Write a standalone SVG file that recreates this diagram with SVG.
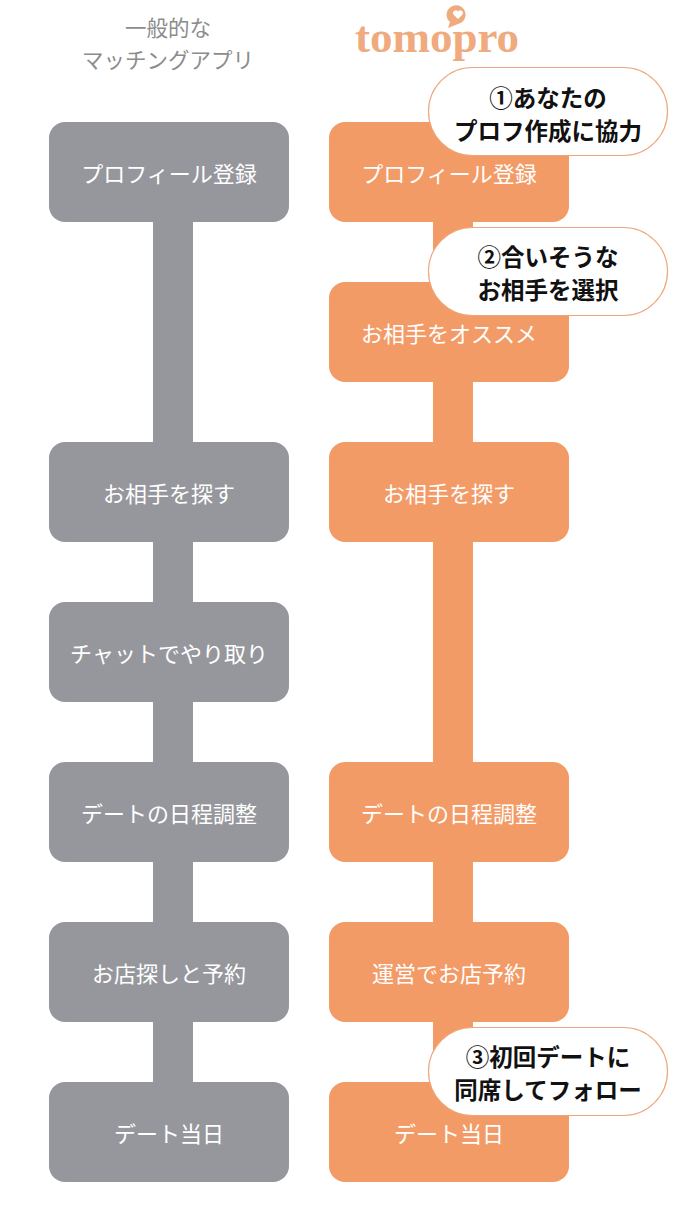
<svg xmlns="http://www.w3.org/2000/svg" width="695" height="1205" viewBox="0 0 695 1205">
<style>
.g{fill:#96979c}
.o{fill:#f39b67}
.bt{font-family:"Noto Sans CJK JP","Noto Sans",sans-serif;font-size:22px;fill:#ffffff;text-anchor:middle;dominant-baseline:central}
.hd{font-family:"Noto Sans CJK JP","Noto Sans",sans-serif;font-size:21.5px;fill:#8c8c8c;text-anchor:middle;dominant-baseline:central}
.co{fill:#ffffff;stroke:#eea77c;stroke-width:1.2}
.ct{font-family:"Noto Sans CJK JP","Noto Sans",sans-serif;font-size:23.5px;font-weight:bold;fill:#111111;text-anchor:middle;dominant-baseline:central}
</style>
<rect width="695" height="1205" fill="#ffffff"/>
<g id="header-left">
<text class="hd" x="168" y="26">一般的な</text>
<text class="hd" x="168" y="58">マッチングアプリ</text>
</g>
<g id="header-logo" opacity="0.8">
<text x="437" y="52" font-family="Liberation Serif, serif" font-size="45" font-weight="bold" fill="#ec955f" text-anchor="middle">tomopro</text>
<path d="M450 22 A9.5 9.5 0 1 1 458 24 L448 28 Z" fill="#ec955f"/>
<path d="M458 19 l-4.5 -4.5 a2.5 2.5 0 0 1 4.5 -2.8 a2.5 2.5 0 0 1 4.5 2.8 Z" fill="#ffffff"/>
</g>
<g id="connectors">
<rect class="g" x="153" y="215" width="40" height="875"/>
<rect class="o" x="433" y="215" width="40" height="875"/>
</g>
<g id="left-1"><rect class="g" x="49" y="122" width="240" height="100" rx="16"/><text class="bt" x="169" y="172">プロフィール登録</text></g>
<g id="left-2"><rect class="g" x="49" y="442" width="240" height="100" rx="16"/><text class="bt" x="169" y="492">お相手を探す</text></g>
<g id="left-3"><rect class="g" x="49" y="602" width="240" height="100" rx="16"/><text class="bt" x="169" y="652">チャットでやり取り</text></g>
<g id="left-4"><rect class="g" x="49" y="762" width="240" height="100" rx="16"/><text class="bt" x="169" y="812">デートの日程調整</text></g>
<g id="left-5"><rect class="g" x="49" y="922" width="240" height="100" rx="16"/><text class="bt" x="169" y="972">お店探しと予約</text></g>
<g id="left-6"><rect class="g" x="49" y="1082" width="240" height="100" rx="16"/><text class="bt" x="169" y="1132">デート当日</text></g>
<g id="right-1"><rect class="o" x="329" y="122" width="240" height="100" rx="16"/><text class="bt" x="449" y="172">プロフィール登録</text></g>
<g id="right-2"><rect class="o" x="329" y="282" width="240" height="100" rx="16"/><text class="bt" x="449" y="332">お相手をオススメ</text></g>
<g id="right-3"><rect class="o" x="329" y="442" width="240" height="100" rx="16"/><text class="bt" x="449" y="492">お相手を探す</text></g>
<g id="right-4"><rect class="o" x="329" y="762" width="240" height="100" rx="16"/><text class="bt" x="449" y="812">デートの日程調整</text></g>
<g id="right-5"><rect class="o" x="329" y="922" width="240" height="100" rx="16"/><text class="bt" x="449" y="972">運営でお店予約</text></g>
<g id="right-6"><rect class="o" x="329" y="1082" width="240" height="100" rx="16"/><text class="bt" x="449" y="1132">デート当日</text></g>
<g id="callout-1"><rect class="co" x="428.5" y="67.5" width="239" height="88" rx="44"/><text class="ct" x="548" y="97">①あなたの</text><text class="ct" x="548" y="130">プロフ作成に協力</text></g>
<g id="callout-2"><rect class="co" x="428.5" y="227.5" width="239" height="88" rx="44"/><text class="ct" x="548" y="256">②合いそうな</text><text class="ct" x="548" y="289">お相手を選択</text></g>
<g id="callout-3"><rect class="co" x="428.5" y="1027.5" width="239" height="88" rx="44"/><text class="ct" x="548" y="1056">③初回デートに</text><text class="ct" x="548" y="1089">同席してフォロー</text></g>
</svg>
